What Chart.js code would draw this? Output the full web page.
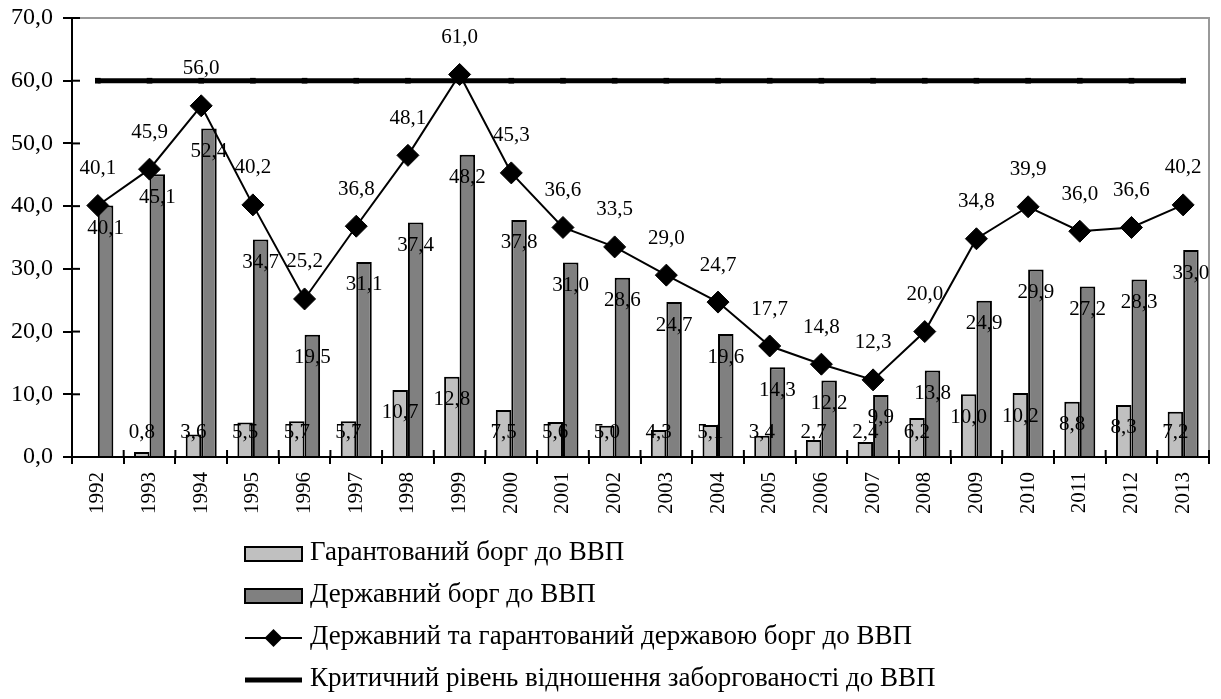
<!DOCTYPE html>
<html>
<head>
<meta charset="utf-8">
<script src="https://cdn.jsdelivr.net/npm/chart.js@4.4.0/dist/chart.umd.min.js"></script>
<style>
  html, body { margin: 0; padding: 0; background: #fff; }
  #wrap { width: 1221px; height: 699px; }
</style>
</head>
<body>
<div id="wrap"><canvas id="debtChart"></canvas></div>
<script>
const years = ['1992','1993','1994','1995','1996','1997','1998','1999','2000','2001','2002',
               '2003','2004','2005','2006','2007','2008','2009','2010','2011','2012','2013'];
const guaranteedDebt = [null, 0.8, 3.6, 5.5, 5.7, 5.7, 10.7, 12.8, 7.5, 5.6, 5.0,
                        4.3, 5.1, 3.4, 2.7, 2.4, 6.2, 10.0, 10.2, 8.8, 8.3, 7.2];
const stateDebt = [40.1, 45.1, 52.4, 34.7, 19.5, 31.1, 37.4, 48.2, 37.8, 31.0, 28.6,
                   24.7, 19.6, 14.3, 12.2, 9.9, 13.8, 24.9, 29.9, 27.2, 28.3, 33.0];
const totalDebt = [40.1, 45.9, 56.0, 40.2, 25.2, 36.8, 48.1, 61.0, 45.3, 36.6, 33.5,
                   29.0, 24.7, 17.7, 14.8, 12.3, 20.0, 34.8, 39.9, 36.0, 36.6, 40.2];
const criticalLevel = [60, 60, 60, 60, 60, 60, 60, 60, 60, 60, 60,
                       60, 60, 60, 60, 60, 60, 60, 60, 60, 60, 60];
const yTicks = [0, 10, 20, 30, 40, 50, 60, 70];

const serif = "'Liberation Serif', 'Times New Roman', serif";
Chart.defaults.font.family = serif;
Chart.defaults.color = '#000';

function fmt(v) {
  return v.toFixed(1).replace('.', ',');
}

// value labels + frame + custom legend
const extras = {
  id: 'extras',
  beforeDatasetsDraw(chart) {
    const ctx = chart.ctx, a = chart.chartArea;
    ctx.save();
    ctx.strokeStyle = '#999';
    ctx.lineWidth = 2;
    ctx.beginPath();
    ctx.moveTo(a.left, a.top);
    ctx.lineTo(a.right, a.top);
    ctx.lineTo(a.right, a.bottom);
    ctx.stroke();
    // tick marks crossing into the plot, like the original
    ctx.strokeStyle = '#000';
    const ys = chart.scales.y;
    ys.ticks.forEach(t => {
      const y = ys.getPixelForValue(t.value);
      ctx.beginPath();
      ctx.moveTo(a.left, y);
      ctx.lineTo(a.left + 8, y);
      ctx.stroke();
    });
    const xs = chart.scales.x;
    const step = (a.right - a.left) / years.length;
    for (let i = 0; i <= years.length; i++) {
      const x = a.left + i * step;
      ctx.beginPath();
      ctx.moveTo(x, a.bottom);
      ctx.lineTo(x, a.bottom - 7);
      ctx.stroke();
    }
    ctx.restore();
  },
  afterDatasetsDraw(chart) {
    const ctx = chart.ctx, a = chart.chartArea;
    ctx.save();
    ctx.fillStyle = '#000';
    ctx.font = '21px ' + serif;
    ctx.textAlign = 'center';
    ctx.textBaseline = 'middle';
    chart.data.datasets.forEach((ds, i) => {
      if (!ds.showValues) return;
      const meta = chart.getDatasetMeta(i);
      meta.data.forEach((el, j) => {
        const v = ds.data[j];
        if (v == null) return;
        let y;
        if (ds.type === 'line') y = el.y - 37;
        else y = Math.min(el.y + 23, a.bottom - 25);
        ctx.fillText(fmt(v), el.x, y);
      });
    });
    ctx.restore();
  },
  afterDraw(chart) {
    const ctx = chart.ctx;
    const x0 = 245, w = 57, tx = 310;
    const rows = [554, 596, 638, 680];
    ctx.save();
    ctx.font = '27px ' + serif;
    ctx.textBaseline = 'middle';
    ctx.textAlign = 'left';
    chart.data.datasets.forEach((ds, i) => {
      const cy = rows[i];
      ctx.strokeStyle = '#000';
      ctx.fillStyle = ds.backgroundColor;
      if (ds.type !== 'line') {
        ctx.lineWidth = 2;
        ctx.fillRect(x0, cy - 7, w, 14);
        ctx.strokeRect(x0, cy - 7, w, 14);
      } else {
        ctx.lineWidth = ds.borderWidth;
        ctx.beginPath();
        ctx.moveTo(x0, cy);
        ctx.lineTo(x0 + w, cy);
        ctx.stroke();
        if (ds.pointStyle === 'rectRot') {
          const r = 9, cx = x0 + w / 2;
          ctx.fillStyle = '#000';
          ctx.beginPath();
          ctx.moveTo(cx, cy - r);
          ctx.lineTo(cx + r, cy);
          ctx.lineTo(cx, cy + r);
          ctx.lineTo(cx - r, cy);
          ctx.closePath();
          ctx.fill();
        }
      }
      ctx.fillStyle = '#000';
      ctx.fillText(ds.label, tx, cy - 1);
    });
    ctx.restore();
  }
};

new Chart(document.getElementById('debtChart'), {
  type: 'bar',
  data: {
    labels: years,
    datasets: [
      {
        label: 'Гарантований борг до ВВП',
        data: guaranteedDebt,
        backgroundColor: '#c0c0c0',
        borderColor: '#000',
        borderWidth: 2,
        categoryPercentage: 0.6,
        barPercentage: 1.0,
        showValues: true,
        order: 2
      },
      {
        label: 'Державний борг до ВВП',
        data: stateDebt,
        backgroundColor: '#808080',
        borderColor: '#000',
        borderWidth: 2,
        categoryPercentage: 0.6,
        barPercentage: 1.0,
        showValues: true,
        order: 2
      },
      {
        type: 'line',
        label: 'Державний та гарантований державою борг до ВВП',
        data: totalDebt,
        borderColor: '#000',
        backgroundColor: '#000',
        borderWidth: 2,
        pointStyle: 'rectRot',
        pointRadius: 11,
        pointBorderWidth: 1,
        pointBackgroundColor: '#000',
        showValues: true,
        order: 0
      },
      {
        type: 'line',
        label: 'Критичний рівень відношення заборгованості до ВВП',
        data: criticalLevel,
        borderColor: '#000',
        backgroundColor: '#000',
        borderWidth: 5,
        pointStyle: 'rect',
        pointRadius: 4,
        pointBackgroundColor: '#000',
        pointBorderWidth: 0,
        order: 1
      }
    ]
  },
  options: {
    responsive: true,
    maintainAspectRatio: false,
    animation: false,
    layout: { padding: { left: 0, right: 9, top: 18, bottom: 180 } },
    plugins: {
      legend: { display: false },
      tooltip: { enabled: false }
    },
    scales: {
      x: {
        grid: {
          display: true,
          drawOnChartArea: false,
          drawTicks: true,
          tickLength: 7,
          color: '#000',
          lineWidth: 2,
          offset: true
        },
        border: { display: true, color: '#000', width: 2 },
        ticks: {
          font: { size: 21 },
          minRotation: 90,
          maxRotation: 90,
          padding: 8
        },
        afterFit(scale) { scale.height = 62; }
      },
      y: {
        min: 0,
        max: 70,
        afterBuildTicks(scale) { scale.ticks = yTicks.map(v => ({ value: v })); },
        grid: {
          display: true,
          drawOnChartArea: false,
          drawTicks: true,
          tickLength: 9,
          color: '#000',
          lineWidth: 2
        },
        border: { display: true, color: '#000', width: 2 },
        ticks: {
          font: { size: 24 },
          padding: 10,
          callback: v => fmt(v)
        },
        afterFit(scale) {
          scale.width = 72;
          scale.paddingTop = 0;
          scale.paddingBottom = 0;
        }
      }
    }
  },
  plugins: [extras]
});
</script>
</body>
</html>
